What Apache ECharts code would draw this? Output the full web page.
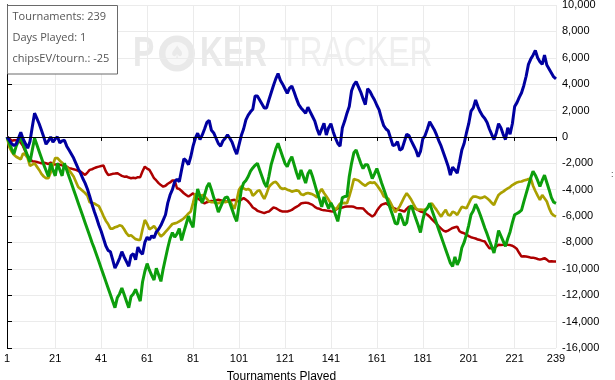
<!DOCTYPE html>
<html><head><meta charset="utf-8">
<script src="https://cdn.jsdelivr.net/npm/echarts@6/dist/echarts.min.js"></script>
<style>html,body{margin:0;padding:0;background:#fff}#c{width:615px;height:380px}</style>
</head><body><div id="c"></div>
<script>
// values per tournament (index 0 = start)
const blueSeries = [
0,-250,-500,-650,-530,-100,350,-150,-500,-850,
-350,750,1800,1400,1000,500,0,-550,-300,0,
-400,-150,0,-450,-300,-250,-700,-1000,-1300,-1600,
-2000,-2400,-2750,-3150,-3500,-3950,-4500,-5100,-5650,-6150,
-6700,-7150,-7700,-8250,-8600,-8700,-9300,-9950,-9600,-9200,
-8700,-9100,-9450,-9800,-9000,-8850,-9300,-8350,-8700,-8900,
-8000,-7600,-7800,-7500,-7650,-7200,-7000,-6700,-6300,-5900,
-5000,-4400,-4000,-3400,-3200,-3400,-2500,-1650,-1800,-2100,
-1500,-700,-100,280,-200,150,600,1100,1250,500,
300,-100,-500,-700,-300,-100,150,-100,-400,-900,
-1300,-600,100,600,1290,1650,1900,2100,3100,3100,
2800,2500,2200,2200,2800,3350,3900,4400,4800,4300,
4000,3650,3300,3700,3850,3400,2900,2450,2200,2000,
1800,2250,1900,1550,1200,600,150,600,1040,150,
700,1000,400,-100,-500,-700,700,1200,1800,2300,
3500,3950,4190,3800,3400,2900,2450,3650,3450,3100,
2800,2400,2050,1400,850,600,450,-100,-650,-600,
-350,-1000,-900,-350,200,100,-300,-650,-1000,-1500,
-1100,-150,100,600,1150,850,550,150,-300,-700,
-1200,-1700,-2200,-2900,-2300,-2500,-2750,-1900,-1000,-500,
300,1000,1950,2200,2800,2300,1900,1600,1400,1100,
600,200,-200,300,1000,700,200,-200,700,200,
1000,2300,2600,3000,3350,3900,4600,5500,5900,6200,
6550,6000,5700,5500,6200,5450,5150,4850,4550,4400];

const redSeries = [
0,-100,-300,-250,-250,-300,-450,-700,-1100,-1450,
-1650,-1850,-1870,-1900,-1950,-2000,-1950,-2000,-2050,-1950,
-2050,-2100,-2050,-2100,-2150,-2200,-2250,-2370,-2400,-2450,
-2500,-2580,-2630,-2750,-2880,-2700,-2500,-2450,-2370,-2300,
-2250,-2200,-2170,-2600,-2880,-2850,-2800,-2780,-2750,-2850,
-2950,-3010,-3000,-3080,-3130,-3100,-3130,-3050,-3050,-2600,
-2250,-2400,-2500,-2800,-3130,-3300,-3500,-3650,-3770,-3700,
-3550,-3450,-3300,-3300,-3890,-3950,-4100,-4270,-4400,-4520,
-4400,-4270,-4450,-4650,-4770,-4950,-5030,-4950,-4900,-4850,
-4900,-4800,-4770,-4800,-4850,-4900,-4900,-4850,-4800,-4770,
-4850,-4900,-4750,-4640,-4750,-4900,-5100,-5350,-5450,-5600,
-5660,-5720,-5780,-5700,-5660,-5500,-5350,-5400,-5500,-5600,
-5660,-5650,-5660,-5600,-5530,-5400,-5300,-5200,-5050,-5000,
-4980,-5000,-5080,-5150,-5300,-5410,-5450,-5530,-5550,-5580,
-5600,-5640,-5660,-5550,-5410,-5380,-5350,-5300,-5280,-5280,
-5280,-5300,-5380,-5410,-5400,-5420,-5600,-5780,-5900,-6040,
-5900,-5600,-5350,-5150,-5080,-5030,-5150,-5280,-5350,-5450,
-5500,-5550,-5600,-5660,-5450,-5280,-5330,-5380,-5450,-5550,
-5650,-5700,-5800,-5900,-6050,-6250,-6420,-6600,-6780,-6950,
-7100,-7170,-7100,-7000,-6900,-6850,-6800,-7150,-7250,-7300,
-7400,-7520,-7600,-7650,-7700,-7780,-7820,-7880,-7930,-8200,
-8430,-8430,-8430,-8300,-8180,-8200,-8180,-8150,-8180,-8200,
-8250,-8350,-8500,-8800,-9070,-9050,-9070,-9100,-9150,-9150,
-9190,-9250,-9300,-9250,-9190,-9300,-9450,-9420,-9450,-9450];

const greenSeries = [
0,-450,-900,-1300,-700,-300,-100,-550,-1000,-1450,
-1900,-1000,-100,-600,-1100,-1600,-2100,-2550,-3000,-2000,
-2500,-2950,-2000,-2500,-2950,-2000,-2500,-3000,-3500,-4000,
-4500,-5000,-5500,-6000,-6500,-7000,-7500,-8000,-8450,-8950,
-9450,-9950,-10450,-10950,-11450,-11950,-12450,-12950,-12200,-11900,
-11450,-11950,-12450,-12950,-12100,-11900,-11550,-12000,-12450,-11000,
-10200,-9600,-10100,-10500,-10850,-9950,-10450,-10950,-10000,-9200,
-8400,-7700,-7250,-7600,-7350,-6950,-7850,-7200,-6600,-6000,
-6500,-6850,-5200,-3950,-4500,-5000,-4400,-3800,-3500,-4000,
-4600,-5100,-5700,-5300,-4900,-4600,-4550,-5000,-5500,-6000,
-6400,-5200,-4000,-3500,-3300,-3000,-2600,-2350,-2150,-2000,
-2500,-3000,-3500,-3800,-3000,-2100,-1500,-900,-480,-1000,
-1500,-2000,-2250,-1800,-1500,-2100,-2700,-3200,-2500,-3000,
-3500,-2800,-2500,-3000,-3600,-4200,-4700,-5300,-4550,-5000,
-5410,-5000,-5400,-5900,-6400,-5500,-4600,-4520,-4500,-3000,
-2000,-1200,-990,-1500,-2000,-2400,-2100,-2100,-2600,-3150,
-2800,-2400,-2900,-3450,-3950,-4450,-5000,-5500,-6000,-6550,
-6600,-5800,-6200,-6700,-6500,-5500,-5200,-5700,-6200,-6700,
-7250,-6300,-5600,-5400,-5030,-5550,-6050,-6550,-7050,-7550,
-8050,-8550,-9050,-9550,-9820,-9100,-9700,-9300,-8400,-8000,
-7400,-6700,-5900,-5600,-5100,-5450,-5900,-6400,-6900,-7350,
-7850,-8300,-8800,-8000,-7100,-7500,-7900,-8300,-7700,-7200,
-6500,-5900,-5800,-5700,-5550,-4900,-4300,-3700,-3100,-2600,
-2900,-3300,-3750,-3300,-2900,-3450,-4000,-4600,-4950,-5030];

const oliveSeries = [
0,-750,-1100,-1350,-1500,-1600,-1700,-1250,-1350,-1600,
-2200,-2100,-2000,-2250,-2500,-2800,-3000,-3130,-3130,-2700,
-2100,-1600,-1600,-1800,-1950,-2150,-2300,-2500,-2750,-3000,
-3400,-3800,-3950,-4100,-4250,-4450,-4950,-5000,-5050,-5150,
-5250,-5600,-6000,-6350,-6600,-6950,-6950,-6850,-6800,-6700,
-6750,-7000,-7300,-7500,-7450,-7600,-7750,-7800,-7800,-7000,
-6300,-6600,-7000,-6900,-6750,-7000,-7300,-7550,-7400,-7200,
-7000,-6800,-6600,-6550,-6500,-6400,-6300,-6160,-6000,-5800,
-5650,-5000,-4300,-4500,-4550,-4400,-4500,-4700,-4900,-4950,
-4950,-5000,-5030,-4950,-4900,-4950,-4900,-4850,-5150,-5450,
-4800,-4000,-3750,-3900,-4000,-3950,-4050,-4450,-4300,-4100,
-4050,-4400,-4700,-4300,-3800,-3600,-3450,-3400,-3600,-3850,
-3950,-3900,-4000,-4050,-4150,-4100,-4050,-4100,-4350,-4400,
-4300,-4250,-4300,-4350,-4450,-4580,-4200,-3950,-4250,-4500,
-4770,-5050,-5300,-5530,-5300,-5050,-5030,-5000,-5030,-4500,
-3900,-3200,-3250,-3300,-3450,-3600,-3700,-3550,-3450,-3480,
-3450,-3650,-3900,-4150,-4500,-4600,-4680,-5000,-5350,-5700,
-5500,-5250,-4900,-4550,-4270,-4500,-4770,-5100,-5410,-5530,
-5500,-5530,-5500,-5400,-5100,-5050,-5300,-5530,-5800,-6040,
-5750,-5530,-5900,-5950,-5660,-5750,-5910,-5600,-5300,-5350,
-5410,-5050,-4700,-4520,-4520,-4580,-4640,-4600,-4520,-4650,
-4800,-5000,-5150,-4750,-4400,-4250,-4150,-4010,-3900,-3800,
-3650,-3550,-3450,-3400,-3380,-3300,-3260,-3200,-3130,-3700,
-4100,-4450,-4770,-4400,-4650,-4900,-5400,-5780,-5950,-6040];

const xTickValues = [0,21,41,61,81,101,121,141,161,181,201,221,239];
const xTickLabels = ['1','21','41','61','81','101','121','141','161','181','201','221','239'];
const infoLines = ['Tournaments: 239','Days Played: 1','chipsEV/tourn.: -25'];

const tourn = blueSeries.map((_, i) => i);
const pairs = arr => arr.map((v, i) => [tourn[i], v]);
const fmtNum = v => (v < 0 ? '-' : '') + String(Math.abs(v)).replace(/\B(?=(\d{3})+(?!\d))/g, ',');

const chart = echarts.init(document.getElementById('c'), null, {renderer: 'canvas'});
const lineSeries = (name, data, color, width, extra) => Object.assign({
  name, type: 'line', data: pairs(data), showSymbol: false, symbol: 'none',
  lineStyle: {color, width}, itemStyle: {color}, animation: false, silent: true,
  xAxisIndex: 0, yAxisIndex: 0
}, extra || {});

const font = '"Liberation Sans", Arial, sans-serif';
const wm = '#e9e9e9';
chart.setOption({
  animation: false,
  grid: {left: 7, right: 59, top: 5, bottom: 32, containLabel: false, outerBoundsMode: 'none'},
  xAxis: [{
    type: 'value', min: 0, max: 239, position: 'bottom',
    name: 'Tournaments Played', nameLocation: 'middle', nameGap: 23,
    nameTextStyle: {color: '#000', fontSize: 12, fontFamily: font},
    axisLine: {show: true, lineStyle: {color: '#000', width: 1}},
    axisTick: {show: true, length: 4, lineStyle: {color: '#000'}, customValues: xTickValues},
    axisLabel: {show: true, color: '#000', fontSize: 11, fontFamily: font, margin: 5,
      customValues: xTickValues,
      formatter: v => { const k = xTickValues.indexOf(v); return k >= 0 ? xTickLabels[k] : ''; }},
    splitLine: {show: true, lineStyle: {color: '#ebebeb', width: 1}}
  }, {
    type: 'value', min: 0, max: 239, position: 'top',
    axisLine: {show: true, lineStyle: {color: '#000', width: 1}},
    axisTick: {show: false}, axisLabel: {show: false}, splitLine: {show: false}
  }],
  yAxis: [{
    type: 'value', min: -16000, max: 10000, interval: 2000, position: 'right',
    axisLine: {show: true, lineStyle: {color: '#000', width: 1}},
    axisTick: {show: true, length: 5, lineStyle: {color: '#000'}},
    axisLabel: {show: true, color: '#000', fontSize: 11, fontFamily: font, margin: 6, formatter: fmtNum},
    splitLine: {show: true, lineStyle: {color: '#ebebeb', width: 1}}
  }, {
    type: 'value', min: -16000, max: 10000, interval: 2000, position: 'left',
    axisLine: {show: true, onZero: false, lineStyle: {color: '#000', width: 1}},
    axisTick: {show: false}, axisLabel: {show: false}, splitLine: {show: false}
  }],
  series: [
    lineSeries('red', redSeries, '#ad0000', 2.5, {
      markLine: {silent: true, symbol: ['none', 'none'], animation: false,
        label: {show: false}, lineStyle: {color: '#000', width: 1, type: 'solid'},
        data: [{yAxis: 0}]}
    }),
    lineSeries('olive', oliveSeries, '#aaa000', 2.7),
    lineSeries('green', greenSeries, '#0c9e0c', 3),
    lineSeries('blue', blueSeries, '#0000a0', 3)
  ],
  graphic: [
    {type: 'text', x: 133, y: 54, scaleX: 0.76, z: 0, silent: true,
      style: {text: 'P', x: 0, y: 0, fill: wm, font: 'bold 42px "Liberation Sans"', verticalAlign: 'middle'}},
    {type: 'circle', shape: {cx: 177, cy: 53.5, r: 18}, style: {fill: wm}, z: 0, silent: true},
    {type: 'circle', shape: {cx: 177, cy: 53.5, r: 11.5}, style: {fill: '#f7f7f7'}, z: 0, silent: true},
    {type: 'text', x: 177, y: 54, z: 0, silent: true,
      style: {text: '\u2660', x: 0, y: 0, fill: wm, font: '17px "DejaVu Sans"', align: 'center', verticalAlign: 'middle'}},
    {type: 'text', x: 200, y: 54, scaleX: 0.755, z: 0, silent: true,
      style: {text: 'KER', x: 0, y: 0, fill: wm, font: 'bold 42px "Liberation Sans"', verticalAlign: 'middle'}},
    {type: 'text', x: 280, y: 54, scaleX: 0.76, z: 0, silent: true,
      style: {text: 'TRACKER', x: 0, y: 0, fill: '#efefef', font: '42px "Liberation Sans"', verticalAlign: 'middle'}},
    {type: 'rect', shape: {x: 7.5, y: 5.5, width: 110, height: 68.5}, z: 100, silent: true,
      style: {fill: '#fff', stroke: '#6a6a6a', lineWidth: 1}},
    {type: 'text', x: 12.5, y: 17, z: 101, silent: true,
      style: {text: infoLines[0], fill: '#555', font: '11px "Open Sans"', verticalAlign: 'middle'}},
    {type: 'text', x: 12.5, y: 38, z: 101, silent: true,
      style: {text: infoLines[1], fill: '#555', font: '11px "Open Sans"', verticalAlign: 'middle'}},
    {type: 'text', x: 12.5, y: 58.5, z: 101, silent: true,
      style: {text: infoLines[2], fill: '#555', font: '11px "Open Sans"', verticalAlign: 'middle'}},
    {type: 'text', x: 611, y: 175, z: 101, silent: true,
      style: {text: ':', fill: '#444', font: '9px "Liberation Sans"', verticalAlign: 'middle'}}
  ]
});
</script></body></html>
